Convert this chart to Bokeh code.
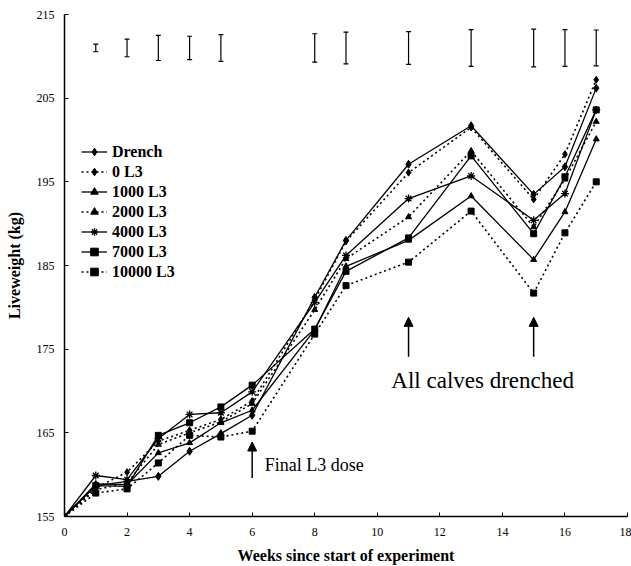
from bokeh.plotting import figure
from bokeh.models import Range1d, FixedTicker, Legend, LegendItem, Arrow, NormalHead
from bokeh.core.properties import value
from bokeh.embed import file_html
from bokeh.resources import INLINE

# ---- data ----
weeks = [0, 1, 2, 3, 4, 5, 6, 8, 9, 11, 13, 15, 16, 17]
drench = [155, 158.7, 159.2, 159.8, 162.8, 164.9, 167.1, 181.2, 188.0, 197.1, 201.7, 193.5, 196.8, 206.2]
l3_0 = [155, 158.4, 160.3, 164.0, 165.3, 166.6, 168.8, 180.9, 187.9, 196.1, 201.5, 192.9, 198.3, 207.2]
l3_1000 = [155, 158.9, 158.8, 162.6, 163.8, 166.2, 167.7, 177.3, 184.9, 188.0, 193.3, 185.7, 191.4, 200.1]
l3_2000 = [155, 158.2, 159.0, 163.6, 165.0, 166.3, 168.5, 179.7, 185.8, 190.8, 198.7, 189.6, 195.3, 202.2]
l3_4000 = [155, 159.9, 159.4, 164.3, 167.2, 167.4, 169.9, 180.6, 186.2, 193.0, 195.7, 190.4, 193.6, 203.6]
l3_7000 = [155, 158.7, 158.6, 164.7, 166.2, 168.1, 170.7, 177.4, 184.3, 188.3, 198.1, 188.8, 195.6, 203.6]
l3_10000 = [155, 157.8, 158.3, 161.4, 164.7, 164.5, 165.2, 176.8, 182.6, 185.4, 191.5, 181.7, 188.9, 195.0]

series_names = ["Drench", "0 L3", "1000 L3", "2000 L3", "4000 L3", "7000 L3", "10000 L3"]
series_values = [drench, l3_0, l3_1000, l3_2000, l3_4000, l3_7000, l3_10000]

err_weeks = [1, 2, 3, 4, 5, 8, 9, 11, 13, 15, 16, 17]
err_center = [211, 211, 211, 211, 211, 211, 211, 211, 211, 211, 211, 211]
err_half = [0.45, 1.05, 1.5, 1.4, 1.6, 1.7, 1.9, 1.95, 2.2, 2.25, 2.2, 2.15]

x_ticks = [0, 2, 4, 6, 8, 10, 12, 14, 16, 18]
y_ticks = [155, 165, 175, 185, 195, 205, 215]

annot_arrow_x = [6, 11, 15]
annot_arrow_y0 = [159.6, 174.1, 174.1]
annot_arrow_y1 = [163.9, 178.8, 178.8]
annot_text = ["Final L3 dose", "All calves drenched"]
annot_text_x = [6.4, 10.45]
annot_text_y = [161.2, 171.3]

# ---- styles ----
dashes = ["solid", "2 3", "solid", "2 3", "solid", "solid", "2 3"]
markers = ["diamond", "diamond", "triangle", "triangle", "asterisk", "square", "square"]
msizes = [8, 7, 6, 6, 8, 6, 6]
annot_sizes = ["18px", "23px"]

SERIF = "Liberation Serif"

p = figure(width=631, height=566, output_backend="svg", toolbar_location=None,
           x_range=Range1d(0, 18), y_range=Range1d(155, 215),
           min_border_left=64, min_border_right=4, min_border_top=14, min_border_bottom=49)
p.outline_line_color = None
p.grid.visible = False
p.background_fill_color = "white"
p.border_fill_color = "white"

p.xaxis.ticker = FixedTicker(ticks=x_ticks)
p.yaxis.ticker = FixedTicker(ticks=y_ticks)
for ax in (p.xaxis, p.yaxis):
    ax.major_tick_in = 4
    ax.major_tick_out = 0
    ax.minor_tick_in = 0
    ax.minor_tick_out = 0
    ax.axis_line_width = 1.5
    ax.axis_line_color = "black"
    ax.major_tick_line_color = "black"
    ax.major_label_text_font = SERIF
    ax.major_label_text_font_size = "12px"
    ax.major_label_text_color = "black"
    ax.major_label_standoff = 10
    ax.axis_label_text_font = SERIF
    ax.axis_label_text_font_style = "bold"
    ax.axis_label_text_font_size = "16px"
    ax.axis_label_text_color = "black"
p.xaxis.major_label_standoff = 11
p.xaxis.axis_label = "Weeks since start of experiment"
p.yaxis.axis_label = "Liveweight (kg)"
p.xaxis.axis_label_standoff = 8
p.yaxis.axis_label_standoff = 11

items = []
for name, vals, dash, mk, ms in zip(series_names, series_values, dashes, markers, msizes):
    lw = 1.3 if dash == "solid" else 1.6
    r1 = p.line(weeks, vals, line_color="black", line_width=lw, line_dash=dash)
    r2 = p.scatter(weeks, vals, marker=mk, size=ms, fill_color="black", line_color="black",
                   line_width=1.3 if mk == "asterisk" else 1)
    items.append(LegendItem(label=name, renderers=[r1, r2]))

# error bars
lo = [c - h for c, h in zip(err_center, err_half)]
hi = [c + h for c, h in zip(err_center, err_half)]
p.segment(err_weeks, lo, err_weeks, hi, line_color="black", line_width=1.2)
p.scatter(err_weeks, lo, marker="dash", size=5, line_color="black", line_width=1.2)
p.scatter(err_weeks, hi, marker="dash", size=5, line_color="black", line_width=1.2)

# arrows
for ax_, y0, y1 in zip(annot_arrow_x, annot_arrow_y0, annot_arrow_y1):
    p.add_layout(Arrow(x_start=ax_, y_start=y0, x_end=ax_, y_end=y1, line_width=1.5,
                       end=NormalHead(size=9, fill_color="black", line_color="black")))

for tx, ty, tt, ts in zip(annot_text_x, annot_text_y, annot_text, annot_sizes):
    p.text([tx], [ty], text=[tt], text_font=value(SERIF),
           text_font_size=ts, text_baseline="middle", text_align="left", text_color="black")

legend = Legend(items=items, location=(17, 235), padding=0, margin=0, spacing=1,
                label_height=19, glyph_height=19, glyph_width=26,
                label_text_font=SERIF, label_text_font_style="bold",
                label_text_font_size="16px", label_text_color="black", label_standoff=5,
                background_fill_alpha=0, border_line_color=None)
p.add_layout(legend)

open("out.html", "w").write(file_html(p, INLINE))
